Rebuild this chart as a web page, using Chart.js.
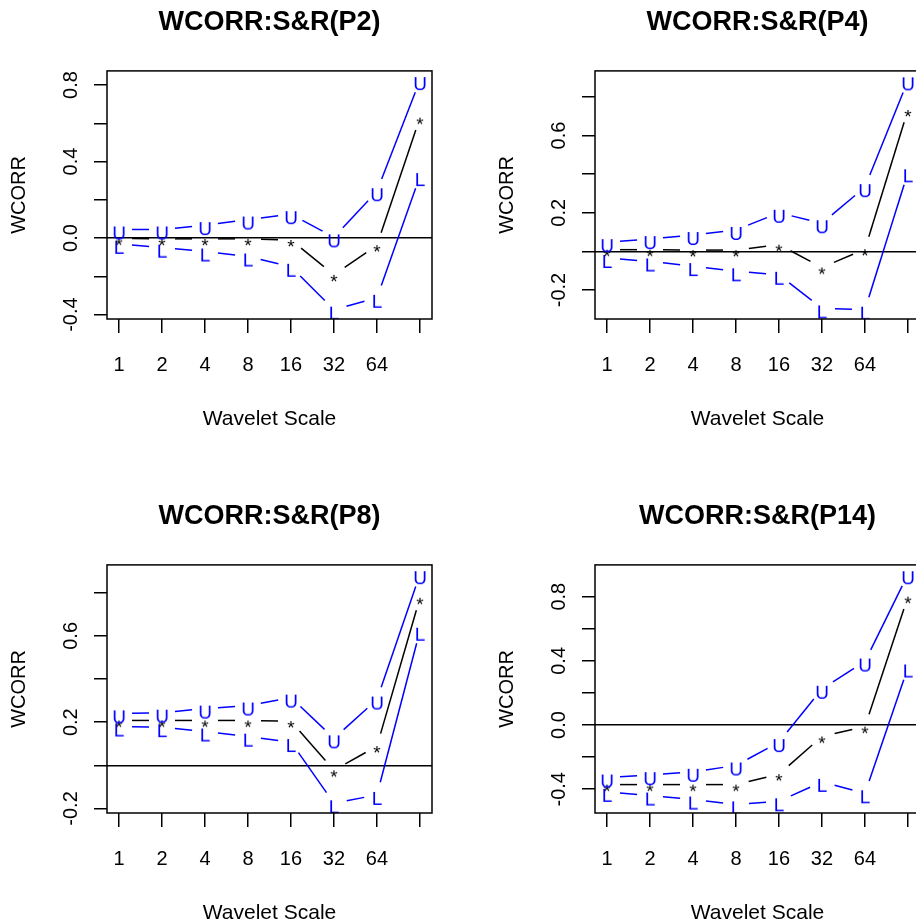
<!DOCTYPE html>
<html>
<head>
<meta charset="utf-8">
<title>WCORR S&R</title>
<script src="https://cdn.jsdelivr.net/npm/chart.js@4.4.0/dist/chart.umd.min.js"></script>
<style>
  html, body { margin: 0; padding: 0; background: #fff; overflow: hidden; }
  #wrap { position: relative; width: 916px; height: 924px; overflow: hidden; background: #fff; }
  canvas { position: absolute; }
</style>
</head>
<body>
<div id="wrap">
  <canvas id="p2" width="458" height="462" style="left:0;top:0"></canvas>
  <canvas id="p4" width="458" height="462" style="left:488px;top:0"></canvas>
  <canvas id="p8" width="458" height="462" style="left:0;top:494px"></canvas>
  <canvas id="p14" width="458" height="462" style="left:488px;top:494px"></canvas>
</div>
<script>

// Data

const xLabels = ['1', '2', '4', '8', '16', '32', '64', ''];
const xPos = [1, 2, 3, 4, 5, 6, 7, 8];

const p2Upper = [0.045, 0.045, 0.068, 0.097, 0.125, 0.004, 0.245, 0.826];
const p2Est   = [-0.002, -0.004, -0.004, -0.004, -0.010, -0.192, -0.037, 0.630];
const p2Lower = [-0.030, -0.050, -0.070, -0.096, -0.150, -0.374, -0.312, 0.324];

const p4Upper = [0.048, 0.064, 0.085, 0.111, 0.200, 0.146, 0.333, 0.886];
const p4Est   = [0.009, 0.009, 0.007, 0.007, 0.035, -0.083, 0.012, 0.733];
const p4Lower = [-0.034, -0.052, -0.076, -0.103, -0.121, -0.295, -0.302, 0.410];

const p8Upper = [0.241, 0.244, 0.263, 0.277, 0.314, 0.125, 0.305, 0.886];
const p8Est   = [0.208, 0.208, 0.208, 0.208, 0.205, -0.023, 0.089, 0.777];
const p8Lower = [0.180, 0.177, 0.157, 0.133, 0.108, -0.176, -0.137, 0.624];

const p14Upper = [-0.327, -0.312, -0.291, -0.252, -0.106, 0.226, 0.396, 0.940];
const p14Est   = [-0.371, -0.371, -0.371, -0.371, -0.306, -0.071, -0.010, 0.800];
const p14Lower = [-0.416, -0.439, -0.464, -0.494, -0.475, -0.354, -0.425, 0.359];

const p2Range = [-0.423, 0.874];
const p4Range = [-0.350, 0.935];
const p8Range = [-0.221, 0.929];
const p14Range = [-0.548, 0.998];

const p2YLabels = ['-0.4', '0.0', '0.4', '0.8'];
const p4YLabels = ['-0.2', '0.2', '0.6'];
const p8YLabels = ['-0.2', '0.2', '0.6'];
const p14YLabels = ['-0.4', '0.0', '0.4', '0.8'];

const xMin = 0.72;
const xMax = 8.28;



// Glyphs (R style pch characters)

const FONT = '"Liberation Sans", Arial, Helvetica, sans-serif';
const BLUE = '#0000ff';
const GAP = 13;

function makeGlyph(ch, color) {
  const c = document.createElement('canvas');
  c.width = 26;
  c.height = 26;
  const g = c.getContext('2d');
  g.font = '19px ' + FONT;
  g.fillStyle = color;
  g.textAlign = 'center';
  g.textBaseline = 'alphabetic';
  const m = g.measureText(ch);
  const mid = (m.actualBoundingBoxAscent - m.actualBoundingBoxDescent) / 2;
  g.fillText(ch, 13, 13 + 3 + mid);
  return c;
}

const glyphU = makeGlyph('U', BLUE);
const glyphL = makeGlyph('L', BLUE);
const glyphStar = makeGlyph('*', '#000');



// Plugins

// type="b" lines: segments stop short of each point
const gapLines = {
  id: 'gapLines',
  beforeDatasetsDraw(chart) {
    const { ctx, chartArea: a } = chart;
    ctx.save();
    ctx.beginPath();
    ctx.rect(a.left, a.top, a.right - a.left, a.bottom - a.top);
    ctx.clip();
    chart.data.datasets.forEach((ds, i) => {
      const pts = chart.getDatasetMeta(i).data;
      ctx.strokeStyle = ds.borderColor;
      ctx.lineWidth = 1.5;
      for (let k = 1; k < pts.length; k++) {
        const p0 = pts[k - 1];
        const p1 = pts[k];
        const dx = p1.x - p0.x;
        const dy = p1.y - p0.y;
        const d = Math.hypot(dx, dy);
        if (d <= 2 * GAP) continue;
        const ux = dx / d;
        const uy = dy / d;
        ctx.beginPath();
        ctx.moveTo(p0.x + ux * GAP, p0.y + uy * GAP);
        ctx.lineTo(p1.x - ux * GAP, p1.y - uy * GAP);
        ctx.stroke();
      }
    });
    ctx.restore();
  }
};

const frame = {
  id: 'frame',
  afterDraw(chart) {
    const { ctx, chartArea: a } = chart;
    ctx.save();
    ctx.strokeStyle = '#000';
    ctx.lineWidth = 1.5;
    ctx.strokeRect(a.left, a.top, a.right - a.left, a.bottom - a.top);
    ctx.restore();
  }
};



// Panels

function toPoints(values) {
  return values.map((v, i) => ({ x: xPos[i], y: v }));
}

function makePanel(id, title, upper, est, lower, yRange, yLabels) {
  const ctx = document.getElementById(id).getContext('2d');
  return new Chart(ctx, {
    type: 'scatter',
    data: {
      datasets: [
        { label: 'U', data: toPoints(upper), borderColor: BLUE, pointStyle: glyphU, pointRadius: 5, clip: 0 },
        { label: '*', data: toPoints(est), borderColor: '#000', pointStyle: glyphStar, pointRadius: 5, clip: 0 },
        { label: 'L', data: toPoints(lower), borderColor: BLUE, pointStyle: glyphL, pointRadius: 5, clip: 0 }
      ]
    },
    options: {
      responsive: false,
      animation: false,
      devicePixelRatio: 1,
      events: [],
      layout: { padding: { left: 0, right: 26, top: 0, bottom: 0 } },
      plugins: {
        legend: { display: false },
        tooltip: { enabled: false },
        title: {
          display: true,
          text: title,
          fullSize: false,
          color: '#000',
          font: { family: FONT, size: 27, weight: 'bold' },
          padding: { top: 6, bottom: 32.5 }
        }
      },
      scales: {
        x: {
          type: 'linear',
          min: xMin,
          max: xMax,
          afterBuildTicks: (s) => { s.ticks = xPos.map(v => ({ value: v })); },
          afterFit: (s) => { s.height = 143; },
          ticks: {
            autoSkip: false,
            maxRotation: 0,
            padding: 20.5,
            color: '#000',
            font: { family: FONT, size: 20 },
            callback: (v, i) => xLabels[i]
          },
          grid: { drawOnChartArea: false, color: '#000', lineWidth: 1.5, tickLength: 14 },
          border: { display: false },
          title: {
            display: true,
            text: 'Wavelet Scale',
            color: '#000',
            font: { family: FONT, size: 21 },
            padding: { top: 0, bottom: 30 }
          }
        },
        y: {
          min: yRange[0],
          max: yRange[1],
          afterFit: (s) => { s.width = 107; },
          ticks: {
            stepSize: 0.2,
            includeBounds: false,
            autoSkip: false,
            minRotation: 90,
            maxRotation: 90,
            crossAlign: 'center',
            padding: 5,
            color: '#000',
            font: { family: FONT, size: 20 },
            callback: (v) => {
              const t = (Math.round(v * 10) / 10).toFixed(1);
              return yLabels.includes(t) ? t : '';
            }
          },
          grid: {
            color: (c) => (c.tick && Math.abs(c.tick.value) < 1e-9) ? '#000' : 'rgba(0,0,0,0)',
            tickColor: '#000',
            lineWidth: 1.5,
            tickLength: 13
          },
          border: { display: false },
          title: {
            display: true,
            text: 'WCORR',
            color: '#000',
            font: { family: FONT, size: 20 },
            padding: { top: 7, bottom: 0 }
          }
        }
      }
    },
    plugins: [gapLines, frame]
  });
}

makePanel('p2', 'WCORR:S&R(P2)', p2Upper, p2Est, p2Lower, p2Range, p2YLabels);
makePanel('p4', 'WCORR:S&R(P4)', p4Upper, p4Est, p4Lower, p4Range, p4YLabels);
makePanel('p8', 'WCORR:S&R(P8)', p8Upper, p8Est, p8Lower, p8Range, p8YLabels);
makePanel('p14', 'WCORR:S&R(P14)', p14Upper, p14Est, p14Lower, p14Range, p14YLabels);

</script>
</body>
</html>
